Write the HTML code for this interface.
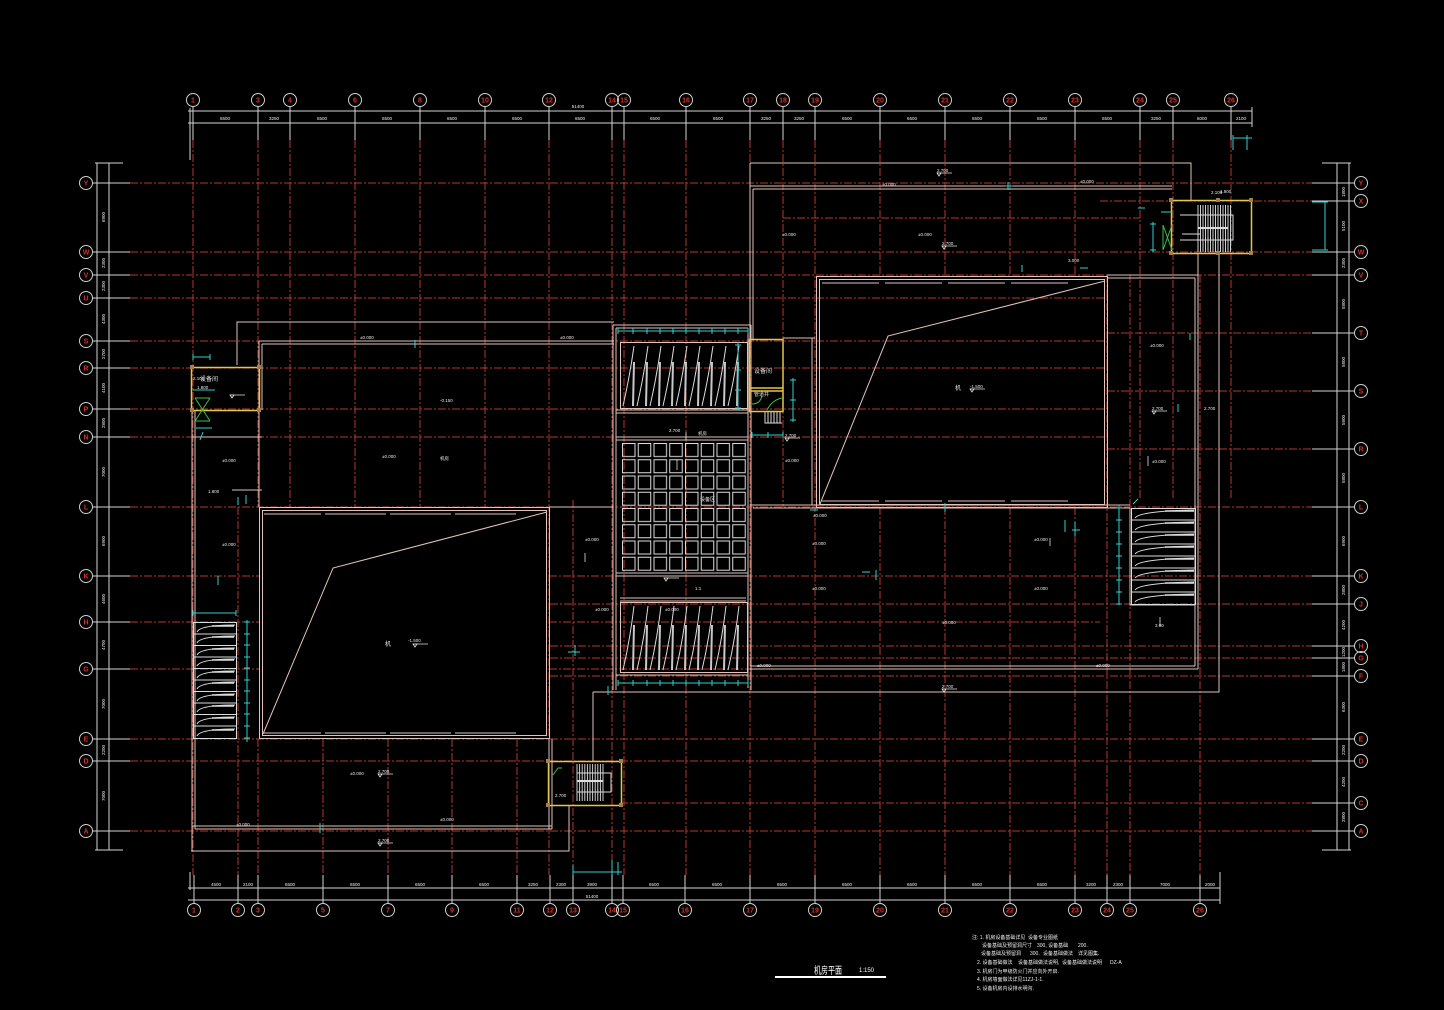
<!DOCTYPE html>
<html><head><meta charset="utf-8"><style>
html,body{margin:0;padding:0;background:#000;}
svg{display:block;}
text{font-family:"Liberation Sans","Noto Sans CJK SC",sans-serif;}
</style></head><body>
<svg width="1444" height="1010" viewBox="0 0 1444 1010" xmlns="http://www.w3.org/2000/svg">
<defs>
<pattern id="gp" x="622" y="443" width="15.75" height="16.25" patternUnits="userSpaceOnUse"><rect x="0.5" y="0.5" width="12.5" height="13" fill="none" stroke="#dcdcdc" stroke-width="1"/></pattern>
</defs>
<rect width="1444" height="1010" fill="#000"/>

<!-- RED GRID -->
<g stroke="#b8392b" stroke-width="1" stroke-dasharray="8 2 2 2" fill="none">
<path d="M193 140V875M258 140V507M258 739V875M549 140V875M612 140V875M624 140V875M686 140V875M750 140V875M815 140V875M880 140V277M880 507V875M945 140V277M945 507V875M1010 140V277M1010 507V875M1075 140V277M1075 507V875"/>
<path d="M290 140V507M355 140V507M420 140V507M485 140V507M783 140V507M1140 140V500M1173 140V500M1231 140V500"/>
<path d="M238 507V875M323 739V875M388 739V875M452 739V875M517 739V875M573 500V875M1107 275V875M1130 275V875M1200 275V875"/>
<path d="M130 183H1312M130 252H1312M130 275H1312M130 507H1312M130 739H1312M130 761H1312M130 831H1312"/>
<path d="M130 576H259M549 576H1312M130 622H259M549 622H1100M130 669H259M549 669H1100"/>
<path d="M130 298H1107M130 341H1107M130 368H1107M130 409H1107M130 437H1107"/>
<path d="M1100 201H1312M1107 333H1312M1107 391H1312M1107 449H1312M550 604H1312M550 646H1312M550 658H1312M550 676H1312M620 803H1312M783 218H1140"/>
</g>

<!-- AXIS STUBS -->
<g stroke="#d4d4d4" stroke-width="1" fill="none">
<path d="M193 106V140M258 106V140M290 106V140M355 106V140M420 106V140M485 106V140M549 106V140M612 106V140M624 106V140M686 106V140M750 106V140M783 106V140M815 106V140M880 106V140M945 106V140M1010 106V140M1075 106V140M1140 106V140M1173 106V140M1231 106V140"/>
<path d="M194 875V904M238 875V904M258 875V904M323 875V904M388 875V904M452 875V904M517 875V904M550 875V904M573 875V904M612 875V904M623 875V904M685 875V904M750 875V904M815 875V904M880 875V904M945 875V904M1010 875V904M1075 875V904M1107 875V904M1130 875V904M1200 875V904"/>
<path d="M92 183H130M92 252H130M92 275H130M92 298H130M92 341H130M92 368H130M92 409H130M92 437H130M92 507H130M92 576H130M92 622H130M92 669H130M92 739H130M92 761H130M92 831H130"/>
<path d="M1312 183H1355M1312 201H1355M1312 252H1355M1312 275H1355M1312 333H1355M1312 391H1355M1312 449H1355M1312 507H1355M1312 576H1355M1312 604H1355M1312 646H1355M1312 658H1355M1312 676H1355M1312 739H1355M1312 761H1355M1312 803H1355M1312 831H1355"/>
<path d="M188 111H1252M188 123H1252M1252 107V127M190 108V160"/>
<path d="M188 888H1220M188 900H1220M1220 872V904M190 872V890"/>
<path d="M97 163V850M109 163V850M95 163H123M95 850H123"/>
<path d="M1337 163V850M1349 163V850M1322 163H1351M1322 850H1351"/>
</g>

<!-- BUBBLES -->
<g stroke="#cfcfcf" stroke-width="1" fill="none">
<circle cx="193" cy="100" r="6.5"/><circle cx="258" cy="100" r="6.5"/><circle cx="290" cy="100" r="6.5"/><circle cx="355" cy="100" r="6.5"/><circle cx="420" cy="100" r="6.5"/><circle cx="485" cy="100" r="6.5"/><circle cx="549" cy="100" r="6.5"/><circle cx="612" cy="100" r="6.5"/><circle cx="624" cy="100" r="6.5"/><circle cx="686" cy="100" r="6.5"/><circle cx="750" cy="100" r="6.5"/><circle cx="783" cy="100" r="6.5"/><circle cx="815" cy="100" r="6.5"/><circle cx="880" cy="100" r="6.5"/><circle cx="945" cy="100" r="6.5"/><circle cx="1010" cy="100" r="6.5"/><circle cx="1075" cy="100" r="6.5"/><circle cx="1140" cy="100" r="6.5"/><circle cx="1173" cy="100" r="6.5"/><circle cx="1231" cy="100" r="6.5"/>
<circle cx="194" cy="910" r="6.5"/><circle cx="238" cy="910" r="6.5"/><circle cx="258" cy="910" r="6.5"/><circle cx="323" cy="910" r="6.5"/><circle cx="388" cy="910" r="6.5"/><circle cx="452" cy="910" r="6.5"/><circle cx="517" cy="910" r="6.5"/><circle cx="550" cy="910" r="6.5"/><circle cx="573" cy="910" r="6.5"/><circle cx="612" cy="910" r="6.5"/><circle cx="623" cy="910" r="6.5"/><circle cx="685" cy="910" r="6.5"/><circle cx="750" cy="910" r="6.5"/><circle cx="815" cy="910" r="6.5"/><circle cx="880" cy="910" r="6.5"/><circle cx="945" cy="910" r="6.5"/><circle cx="1010" cy="910" r="6.5"/><circle cx="1075" cy="910" r="6.5"/><circle cx="1107" cy="910" r="6.5"/><circle cx="1130" cy="910" r="6.5"/><circle cx="1200" cy="910" r="6.5"/>
<circle cx="86" cy="183" r="6.5"/><circle cx="86" cy="252" r="6.5"/><circle cx="86" cy="275" r="6.5"/><circle cx="86" cy="298" r="6.5"/><circle cx="86" cy="341" r="6.5"/><circle cx="86" cy="368" r="6.5"/><circle cx="86" cy="409" r="6.5"/><circle cx="86" cy="437" r="6.5"/><circle cx="86" cy="507" r="6.5"/><circle cx="86" cy="576" r="6.5"/><circle cx="86" cy="622" r="6.5"/><circle cx="86" cy="669" r="6.5"/><circle cx="86" cy="739" r="6.5"/><circle cx="86" cy="761" r="6.5"/><circle cx="86" cy="831" r="6.5"/>
<circle cx="1361" cy="183" r="6.5"/><circle cx="1361" cy="201" r="6.5"/><circle cx="1361" cy="252" r="6.5"/><circle cx="1361" cy="275" r="6.5"/><circle cx="1361" cy="333" r="6.5"/><circle cx="1361" cy="391" r="6.5"/><circle cx="1361" cy="449" r="6.5"/><circle cx="1361" cy="507" r="6.5"/><circle cx="1361" cy="576" r="6.5"/><circle cx="1361" cy="604" r="6.5"/><circle cx="1361" cy="646" r="6.5"/><circle cx="1361" cy="658" r="6.5"/><circle cx="1361" cy="676" r="6.5"/><circle cx="1361" cy="739" r="6.5"/><circle cx="1361" cy="761" r="6.5"/><circle cx="1361" cy="803" r="6.5"/><circle cx="1361" cy="831" r="6.5"/>
</g>
<g fill="#d8301f" font-size="7" font-weight="bold" text-anchor="middle">
<text x="193" y="102.5">1</text><text x="258" y="102.5">3</text><text x="290" y="102.5">4</text><text x="355" y="102.5">6</text><text x="420" y="102.5">8</text><text x="485" y="102.5">10</text><text x="549" y="102.5">12</text><text x="612" y="102.5">14</text><text x="624" y="102.5">15</text><text x="686" y="102.5">16</text><text x="750" y="102.5">17</text><text x="783" y="102.5">18</text><text x="815" y="102.5">19</text><text x="880" y="102.5">20</text><text x="945" y="102.5">21</text><text x="1010" y="102.5">22</text><text x="1075" y="102.5">23</text><text x="1140" y="102.5">24</text><text x="1173" y="102.5">25</text><text x="1231" y="102.5">26</text>
<text x="194" y="912.5">1</text><text x="238" y="912.5">2</text><text x="258" y="912.5">3</text><text x="323" y="912.5">5</text><text x="388" y="912.5">7</text><text x="452" y="912.5">9</text><text x="517" y="912.5">11</text><text x="550" y="912.5">12</text><text x="573" y="912.5">13</text><text x="612" y="912.5">14</text><text x="623" y="912.5">15</text><text x="685" y="912.5">16</text><text x="750" y="912.5">17</text><text x="815" y="912.5">19</text><text x="880" y="912.5">20</text><text x="945" y="912.5">21</text><text x="1010" y="912.5">22</text><text x="1075" y="912.5">23</text><text x="1107" y="912.5">24</text><text x="1130" y="912.5">25</text><text x="1200" y="912.5">26</text>
<text x="86" y="185.5">Y</text><text x="86" y="254.5">W</text><text x="86" y="277.5">V</text><text x="86" y="300.5">U</text><text x="86" y="343.5">S</text><text x="86" y="370.5">R</text><text x="86" y="411.5">P</text><text x="86" y="439.5">N</text><text x="86" y="509.5">L</text><text x="86" y="578.5">K</text><text x="86" y="624.5">H</text><text x="86" y="671.5">G</text><text x="86" y="741.5">E</text><text x="86" y="763.5">D</text><text x="86" y="833.5">A</text>
<text x="1361" y="185.5">Y</text><text x="1361" y="203.5">X</text><text x="1361" y="254.5">W</text><text x="1361" y="277.5">V</text><text x="1361" y="335.5">T</text><text x="1361" y="393.5">S</text><text x="1361" y="451.5">R</text><text x="1361" y="509.5">L</text><text x="1361" y="578.5">K</text><text x="1361" y="606.5">J</text><text x="1361" y="648.5">H</text><text x="1361" y="660.5">G</text><text x="1361" y="678.5">F</text><text x="1361" y="741.5">E</text><text x="1361" y="763.5">D</text><text x="1361" y="805.5">C</text><text x="1361" y="833.5">A</text>
</g>

<!-- DIMENSION TEXT -->
<g fill="#eaeaea" font-size="4.5" text-anchor="middle">
<text x="225" y="120">6500</text><text x="274" y="120">3250</text><text x="322" y="120">6500</text><text x="387" y="120">6500</text><text x="452" y="120">6500</text><text x="517" y="120">6500</text><text x="580" y="120">6500</text><text x="655" y="120">6500</text><text x="718" y="120">6500</text><text x="766" y="120">3250</text><text x="799" y="120">3250</text><text x="847" y="120">6500</text><text x="912" y="120">6500</text><text x="977" y="120">6500</text><text x="1042" y="120">6500</text><text x="1107" y="120">6500</text><text x="1156" y="120">3250</text><text x="1202" y="120">6000</text><text x="1241" y="120">2100</text>
<text x="578" y="108">51400</text>
<text x="216" y="886">4500</text><text x="248" y="886">2100</text><text x="290" y="886">6500</text><text x="355" y="886">6500</text><text x="420" y="886">6500</text><text x="484" y="886">6500</text><text x="533" y="886">3250</text><text x="561" y="886">2300</text><text x="592" y="886">3900</text><text x="654" y="886">6500</text><text x="717" y="886">6500</text><text x="782" y="886">6500</text><text x="847" y="886">6500</text><text x="912" y="886">6500</text><text x="977" y="886">6500</text><text x="1042" y="886">6500</text><text x="1091" y="886">3200</text><text x="1118" y="886">2300</text><text x="1165" y="886">7000</text><text x="1210" y="886">2000</text>
<text x="592" y="898">51400</text>
<text transform="translate(105,217) rotate(-90)">6900</text><text transform="translate(105,263) rotate(-90)">2300</text><text transform="translate(105,286) rotate(-90)">2300</text><text transform="translate(105,319) rotate(-90)">4300</text><text transform="translate(105,354) rotate(-90)">2700</text><text transform="translate(105,388) rotate(-90)">4100</text><text transform="translate(105,423) rotate(-90)">2800</text><text transform="translate(105,472) rotate(-90)">7000</text><text transform="translate(105,541) rotate(-90)">6900</text><text transform="translate(105,599) rotate(-90)">4600</text><text transform="translate(105,645) rotate(-90)">4700</text><text transform="translate(105,704) rotate(-90)">7000</text><text transform="translate(105,750) rotate(-90)">2200</text><text transform="translate(105,796) rotate(-90)">7000</text>
<text transform="translate(1345,192) rotate(-90)">1800</text><text transform="translate(1345,226) rotate(-90)">5100</text><text transform="translate(1345,263) rotate(-90)">2300</text><text transform="translate(1345,304) rotate(-90)">5800</text><text transform="translate(1345,362) rotate(-90)">5800</text><text transform="translate(1345,420) rotate(-90)">5800</text><text transform="translate(1345,478) rotate(-90)">5800</text><text transform="translate(1345,541) rotate(-90)">6900</text><text transform="translate(1345,590) rotate(-90)">2800</text><text transform="translate(1345,625) rotate(-90)">4200</text><text transform="translate(1345,652) rotate(-90)">1200</text><text transform="translate(1345,667) rotate(-90)">1800</text><text transform="translate(1345,707) rotate(-90)">6300</text><text transform="translate(1345,750) rotate(-90)">2200</text><text transform="translate(1345,782) rotate(-90)">4200</text><text transform="translate(1345,817) rotate(-90)">2800</text>
</g>

<!-- WALLS / BUILDING -->
<g stroke="#e2c2b9" stroke-width="1" fill="none">
<path d="M750 163H1191V200M750 163V187"/>
<path d="M750 186H1172M753 189H1172"/>
<path d="M750 186V340M753 189V340"/>
<rect x="816.5" y="276.5" width="291" height="231"/>
<rect x="819.5" y="279.5" width="285" height="225"/>
<path d="M822 283H879M885 283H942M948 283H1005M1011 283H1068M822 501H879M885 501H942M948 501H1005M1011 501H1068"/>
<path d="M820 504L888 336L1105 281"/>
<path d="M1107 275H1198M1107 278H1195M1195 278V666M1198 275V669M1219 254V692H593M750 666H1195M750 669H1198"/>
<path d="M750 505H1130M753 508H1130"/>
<path d="M812 338V505M783 338H815M1198 254V275"/>
<path d="M1130 508V605H1195"/>
<path d="M613 325V690M616 328V690M748 328V688M751 325V690M613 325H751M616 328H748"/>
<path d="M616 410H748M616 413H748M616 437H748M616 440H748M616 573H748M616 576H748M620 598H746M620 601H746M616 675H748"/>
<rect x="620.5" y="342.5" width="127" height="66"/>
<rect x="620.5" y="602.5" width="127" height="70"/>
<path d="M237 365V322H614"/>
<path d="M259 341H614M262 344H614"/>
<path d="M259 341V410M262 344V410M259 410V507"/>
<path d="M192 410V851M195 410V829"/>
<path d="M191 851H569V805"/>
<path d="M192 826H552M195 829H552"/>
<rect x="259.5" y="507.5" width="290" height="231"/>
<rect x="262.5" y="510.5" width="284" height="225"/>
<path d="M264 733H321M325 733H386M390 733H451M455 733H516M264 514H321M325 514H386M390 514H451M455 514H516"/>
<path d="M263 734L333 568L547 512"/>
<path d="M549 739V829M552 739V829"/>
<path d="M549 507H613M593 692V761M593 692H613"/>
<path d="M232 490H262M192 437H262"/>
</g>

<!-- STAIRS & GRID -->
<g stroke="#dcdcdc" fill="none" stroke-width="1">
<rect x="622" y="443" width="126" height="130" fill="url(#gp)" stroke="none"/>
<path d="M634 346Q630 375 623 406M648 346Q644 375 637 406M661 346Q657 375 650 406M674 346Q670 375 663 406M687 346Q683 375 676 406M700 346Q696 375 689 406M713 346Q709 375 702 406M726 346Q722 375 715 406M739 346Q735 375 728 406"/>
<path d="M634 606Q630 640 623 670M648 606Q644 640 637 670M661 606Q657 640 650 670M674 606Q670 640 663 670M687 606Q683 640 676 670M700 606Q696 640 689 670M713 606Q709 640 702 670M726 606Q722 640 715 670M739 606Q735 640 728 670"/>
<path stroke-width="2" stroke="#c8c8c8" d="M634 362L633 406M647 362L646 406M660 362L659 406M673 362L672 406M686 362L685 406M699 362L698 406M712 362L711 406M725 362L724 406M738 362L737 406"/>
<path stroke-width="2" stroke="#c8c8c8" d="M634 625L633 670M647 625L646 670M660 625L659 670M673 625L672 670M686 625L685 670M699 625L698 670M712 625L711 670M725 625L724 670M738 625L737 670"/>
<rect x="193.5" y="622.5" width="43" height="116"/>
<path d="M194 634H236M194 645.5H236M194 657H236M194 668.5H236M194 680H236M194 691.5H236M194 703H236M194 714.5H236M194 726H236"/>
<path d="M197 632Q200 625 235 625M197 643Q200 636 235 636M197 655Q200 648 235 648M197 666Q200 659 235 659M197 678Q200 671 235 671M197 689Q200 682 235 682M197 701Q200 694 235 694M197 712Q200 705 235 705M197 724Q200 717 235 717M197 736Q200 729 235 729"/>
<path stroke-width="1.5" d="M212 626H234M212 637H234M212 649H234M212 660H234M212 672H234M212 683H234M212 695H234M212 706H234M212 718H234M212 730H234"/>
<rect x="1131.5" y="508.5" width="64" height="96"/>
<path d="M1132 520H1195M1132 532H1195M1132 544H1195M1132 556H1195M1132 568H1195M1132 580H1195M1132 592H1195"/>
<path d="M1135 518Q1140 511 1194 510M1135 530Q1140 523 1194 522M1135 542Q1140 535 1194 534M1135 554Q1140 547 1194 546M1135 566Q1140 559 1194 558M1135 578Q1140 571 1194 570M1135 590Q1140 583 1194 582M1135 602Q1140 595 1194 594"/>
<path stroke-width="1.5" d="M1165 511H1194M1165 523H1194M1165 535H1194M1165 547H1194M1165 559H1194M1165 571H1194M1165 583H1194M1165 595H1194"/>
<path stroke="#cfcfcf" d="M1198 205V252M1200.5 205V252M1203 205V252M1205.5 205V252M1208 205V252M1210.5 205V252M1213 205V252M1215.5 205V252M1218 205V252M1220.5 205V252M1223 205V252M1225.5 205V252M1228 205V252M1230.5 205V252"/>
<path stroke-width="2" d="M1198 228H1228"/>
<path d="M1180 215H1233V240H1180M1182 234H1200"/>
<path stroke="#cfcfcf" d="M577 764V801M579.6 764V801M582.2 764V801M584.8 764V801M587.4 764V801M590 764V801M592.6 764V801M595.2 764V801M597.8 764V801M600.4 764V801M603 764V801"/>
<path stroke-width="2" d="M577 781H603"/>
<path d="M577 773H611V792H577"/>
<path d="M765 412V423H782M768 412V423M771 412V423M774 412V423M777 412V423M780 412V423"/>
</g>

<!-- YELLOW -->
<g stroke="#e6c64a" stroke-width="1.5" fill="none">
<rect x="191.5" y="367.5" width="68" height="43"/>
<rect x="749.5" y="339.5" width="33.5" height="72"/>
<path d="M750 388H783M750 391H783"/>
<rect x="1171.5" y="200.5" width="80" height="53"/>
<rect x="548.5" y="761.5" width="73" height="44"/>
</g>
<g fill="#a08050">
<rect x="190" y="365" width="4" height="4"/><rect x="257" y="365" width="4" height="4"/><rect x="190" y="408" width="4" height="4"/><rect x="257" y="408" width="4" height="4"/>
<rect x="1169" y="198" width="4" height="4"/><rect x="1249" y="198" width="4" height="4"/><rect x="1169" y="251" width="4" height="4"/><rect x="1249" y="251" width="4" height="4"/>
<rect x="546" y="759" width="4" height="4"/><rect x="619" y="759" width="4" height="4"/><rect x="546" y="803" width="4" height="4"/><rect x="619" y="803" width="4" height="4"/>
<rect x="1216" y="198" width="4" height="4"/><rect x="1216" y="251" width="4" height="4"/>
</g>

<!-- GREEN -->
<g stroke="#3cc040" stroke-width="1" fill="none">
<path d="M1163 225L1172 250M1172 225L1163 250M1163 225V250"/>
<path d="M195 398L210 421M210 398L195 421M195 398H210M195 421H210"/>
<path d="M752 404Q760 404 762 396M767 410Q772 400 782 398"/>
<path d="M553 775L558 768H562"/>
</g>

<!-- CYAN -->
<g stroke="#2fd0d0" stroke-width="1" fill="none">
<path d="M618 331H748M618 328V334M633 328V334M647 328V334M660 328V334M673 328V334M686 328V334M699 328V334M712 328V334M725 328V334M738 328V334M748 328V334"/>
<path d="M618 683H748M618 680V686M633 680V686M647 680V686M660 680V686M673 680V686M686 680V686M699 680V686M712 680V686M725 680V686M738 680V686M748 680V686"/>
<path d="M247 620V742M244 622H250M244 634H250M244 645H250M244 657H250M244 668H250M244 680H250M244 691H250M244 703H250M244 714H250M244 726H250M244 738H250"/>
<path d="M193 613H236M193 610V616M236 610V616"/>
<path d="M1119 505V605M1116 508H1122M1116 520H1122M1116 532H1122M1116 544H1122M1116 556H1122M1116 568H1122M1116 580H1122M1116 592H1122M1116 604H1122M1133 504L1138 499"/>
<path d="M738 342V410M735 345H741M735 370H741M735 390H741M735 408H741"/>
<path d="M793 378V422M790 380H796M790 400H796M790 420H796M752 435H783M752 432V438M768 432V438M783 432V438"/>
<path d="M193 357H210M193 354V360M210 354V360M193 390H215M196 428H212M203 432L200 440"/>
<path d="M1153 222V252M1150 224H1156M1150 250H1156M1325 202V250M1312 202H1328M1312 250H1328M1161 212H1172M1233 135V150M1247 135V150M1233 138H1252"/>
<path d="M573 872H622M573 865V875M612 860V875M618 862V875"/>
<path d="M415 340V348M1008 182V190M1005 186H1013M945 503V512M810 510H818M1065 520V532M1075 522V536M1072 530H1080M862 572H870M876 570V580M575 645V656M568 652H580M320 823V833M608 686V695M1190 333V340M1178 404V412M1080 268H1088M1138 208H1145M218 576V585M238 497V505M246 495V504M1022 265V272"/>
</g>

<!-- SMALL LABELS -->
<g fill="#e8e8e8" font-size="4.5">
<text x="360" y="339">±0.000</text><text x="560" y="339">±0.000</text><text x="440" y="402">-0.150</text><text x="382" y="458">±0.000</text><text x="440" y="460">机房</text><text x="222" y="462">±0.000</text><text x="222" y="546">±0.000</text><text x="208" y="493">1.800</text>
<text x="385" y="646" font-size="6">机</text><text x="408" y="642">-1.500</text>
<text x="585" y="541">±0.000</text><text x="595" y="611">±0.000</text><text x="669" y="432">2.700</text><text x="698" y="435">机房</text><text x="700" y="501" font-size="5">设备区</text><text x="695" y="590">1:1</text><text x="665" y="611">±0.000</text>
<text x="882" y="186">±0.000</text><text x="1080" y="183">±0.000</text><text x="937" y="172">2.700</text><text x="782" y="236">±0.000</text><text x="918" y="236">±0.000</text><text x="942" y="245">2.700</text><text x="1068" y="262">3.000</text><text x="955" y="390" font-size="6">机</text><text x="970" y="388">-1.500</text>
<text x="1150" y="347">±0.000</text><text x="1152" y="410">2.700</text><text x="1152" y="463">±0.000</text><text x="1155" y="627">3.00</text><text x="1204" y="410">2.700</text>
<text x="813" y="517">±0.000</text><text x="812" y="545">±0.000</text><text x="812" y="590">±0.000</text><text x="1034" y="541">±0.000</text><text x="1034" y="590">±0.000</text><text x="942" y="624">±0.000</text><text x="942" y="688">2.700</text><text x="757" y="667">±0.000</text><text x="1096" y="667">±0.000</text><text x="785" y="437">2.700</text><text x="785" y="462">±0.000</text>
<text x="350" y="775">±0.000</text><text x="378" y="773">2.700</text><text x="236" y="826">±0.000</text><text x="440" y="821">±0.000</text><text x="378" y="842">2.700</text><text x="555" y="797">2.700</text>
<text x="1211" y="194">2.100</text><text x="1220" y="193">1.800</text><text x="193" y="380">2.100</text><text x="197" y="389">1.800</text>
<text x="200" y="381" font-size="6">设备间</text><text x="754" y="373" font-size="6">设备间</text><text x="754" y="396" font-size="5">管道井</text>
</g>
<g stroke="#e0e0e0" stroke-width="0.8" fill="none">
<path d="M413 644l2 3 2-3zM970 389l2 3 2-3zM942 246l2 3 2-3zM937 173l2 3 2-3zM378 774l2 3 2-3zM378 843l2 3 2-3zM1152 411l2 3 2-3zM942 689l2 3 2-3zM785 438l2 3 2-3zM230 395l2 3 2-3zM664 578l2 3 2-3z"/>
<path d="M413 644H428M970 389H985M942 246H957M937 173H952M378 774H393M378 843H393M1152 411H1167M942 689H957M785 438H800M230 395H245M664 578H679"/>
<path d="M677 460V470M686 432V440M1050 538V546M1148 456V466M585 553V562M1160 617V626"/>
</g>

<!-- TITLE -->
<text x="814" y="974" font-size="10" fill="#fff" textLength="28" lengthAdjust="spacingAndGlyphs">机房平面</text>
<text x="859" y="972" font-size="6" fill="#fff">1:150</text>
<rect x="775" y="976" width="111" height="2" fill="#fff"/>

<!-- NOTES -->
<g fill="#f0f0f0" font-size="5">
<text x="972" y="939">注: 1. 机房设备基础详见</text><text x="1028" y="939">设备专业图纸</text>
<text x="982" y="947">设备基础及预留洞尺寸</text><text x="1037" y="947">300, 设备基础</text><text x="1078" y="947">200.</text>
<text x="981" y="955">设备基础及预留洞</text><text x="1030" y="955">300.</text><text x="1043" y="955">设备基础做法</text><text x="1078" y="955">详见图集.</text>
<text x="977" y="964">2. 设备基础做法</text><text x="1018" y="964">设备基础做法说明,</text><text x="1062" y="964">设备基础做法说明</text><text x="1110" y="964">DZ-A</text>
<text x="977" y="973">3. 机房门为甲级防火门并应向外开启.</text>
<text x="977" y="981">4. 机房墙面做法详见11ZJ-1-1.</text>
<text x="977" y="990">5. 设备机房内设排水明沟.</text>
</g>
</svg>
</body></html>
